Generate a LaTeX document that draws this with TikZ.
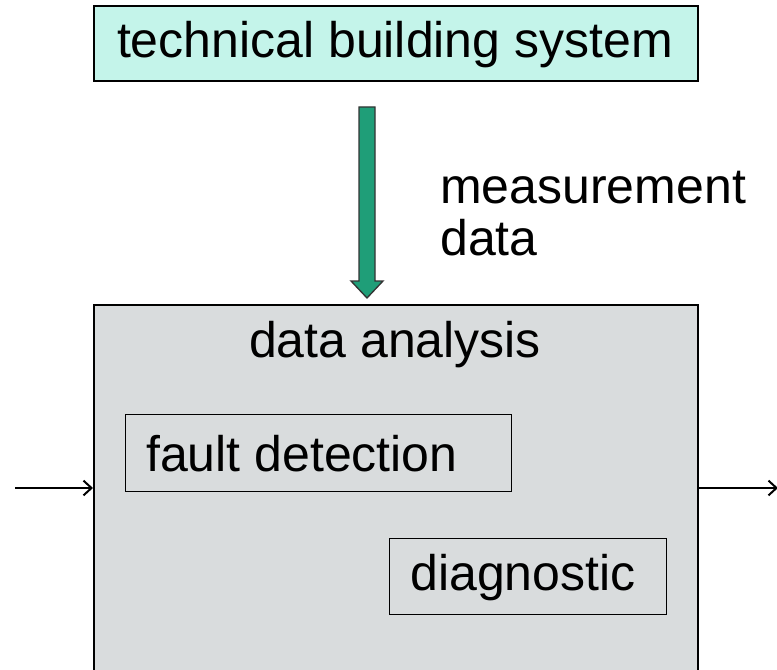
\documentclass[tikz,border=0pt]{standalone}
\usepackage{fontspec}
\setmainfont{Liberation Sans}
\usetikzlibrary{arrows.meta}
\definecolor{aqua}{HTML}{C4F4EA}
\definecolor{panel}{HTML}{D9DCDD}
\definecolor{flow}{HTML}{1F9E78}
\tikzset{
  px/.style={x=0.75pt,y=-0.75pt},
  label/.style={font=\fontsize{37.5}{39}\selectfont, text=black, inner sep=0pt},
  framebox/.style={draw=black, line width=1.5pt, inner sep=0pt},
  inbox/.style={draw=black, line width=1.1pt, inner sep=0pt},
  signal/.style={draw=black, line width=1.5pt, -{Straight Barb[length=6pt,width=11pt,line width=1.5pt]}}
}
\begin{document}
\begin{tikzpicture}[px]
\useasboundingbox (0,0) rectangle (777,670);
% upper system block
\node[framebox, fill=aqua, minimum width=604*0.75pt, minimum height=75*0.75pt, anchor=north west] (sys) at (93,5) {};
\node[label] (systxt) at (395,45) {technical building system};
% analysis panel, running off the lower edge
\node[framebox, fill=panel, minimum width=604*0.75pt, minimum height=380*0.75pt, anchor=north west] (ana) at (93,304) {};
\node[label] (anatxt) at (395,345) {data analysis};
% inner blocks
\node[inbox, minimum width=386*0.75pt, minimum height=77*0.75pt, anchor=north west] (fd) at (125,414) {};
\node[label, anchor=west] (fdtxt) at (146,454) {fault detection};
\node[inbox, minimum width=277*0.75pt, minimum height=76*0.75pt, anchor=north west] (dg) at (389,538) {};
\node[label] (dgtxt) at (523,578) {diagnostic};
% measurement flow arrow
\fill[flow, draw=black!80, line width=1pt]
  (359,107) -- (375,107) -- (375,281) -- (383,281) -- (367,298) -- (351,281) -- (359,281) -- cycle;
\node[label, anchor=west, align=left] (mtxt) at (440,214) {measurement\\data};
% input and output signals
\coordinate (in) at (15,488);
\coordinate (out) at (778,488);
\draw[signal] (in) -- (ana.west |- in);
\draw[signal] (ana.east |- out) -- (out);
\end{tikzpicture}
\end{document}
